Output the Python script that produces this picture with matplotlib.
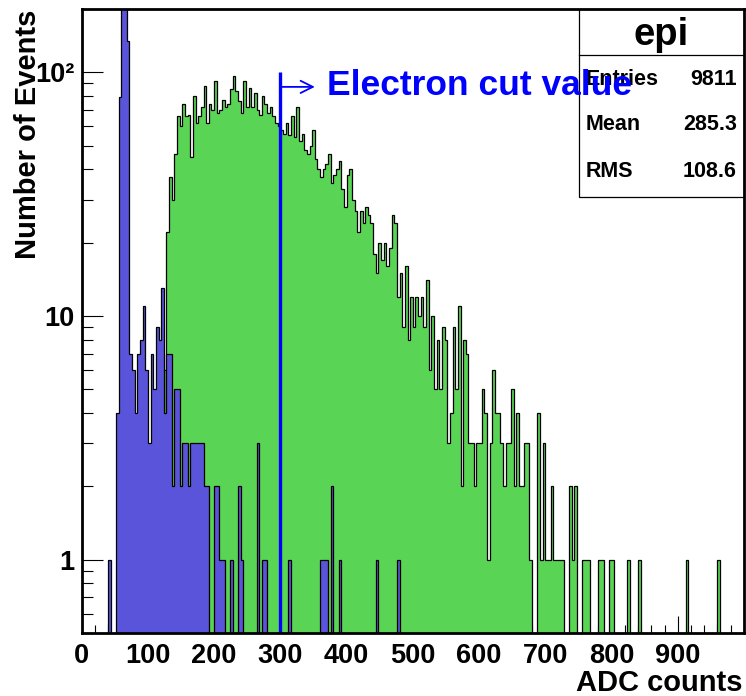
import matplotlib
matplotlib.use('Agg')
import matplotlib.pyplot as plt
import numpy as np
from matplotlib.patches import Rectangle
from matplotlib.lines import Line2D
from matplotlib.ticker import FixedLocator, FuncFormatter

# --- data (ADC histograms, 4-count bins) ---
bin_width = 4
x_max = 1000

green_start = 124
green_counts = [
    6, 22, 37, 30, 46, 66, 60, 74, 66, 67,          # 124-160
    45, 80, 62, 66, 72, 88, 62, 74, 70, 92,         # 164-200
    68, 70, 77, 72, 74, 85, 96, 84, 76, 68,         # 204-240
    92, 72, 86, 72, 82, 70, 67, 80, 74, 68,         # 244-280
    72, 66, 62, 60, 58, 56, 62, 55, 66, 54,         # 284-320
    72, 52, 56, 48, 46, 50, 58, 44, 40, 37,         # 324-360
    40, 42, 46, 35, 38, 40, 43, 33, 28, 38,         # 364-400
    40, 30, 27, 22, 27, 24, 28, 26, 24, 18,         # 404-440
    15, 20, 17, 20, 16, 19, 26, 24, 12, 15,         # 444-480
    9, 16, 8, 12, 9, 12, 10, 12, 9, 14,             # 484-520
    6, 10, 5, 8, 5, 9, 8, 3, 4, 9,                  # 524-560
    5, 11, 2, 8, 7, 3, 3, 2, 3, 3,                  # 564-600
    5, 4, 1, 3, 6, 4, 4, 3, 2, 3,                   # 604-640
    3, 5, 2, 4, 2, 2, 3, 3, 1, 0,                   # 644-680
    0, 4, 1, 3, 1, 1, 2, 1, 1, 1,                   # 684-720
    1, 0, 0, 2, 1, 2, 0, 0, 1, 1,                   # 724-760
    1, 0, 0, 0, 1, 1, 0, 0, 1, 1,                   # 764-800
]
green_tail_adc = [824, 840, 912, 960]
green_tail_counts = [1, 1, 1, 1]

blue_start = 40
blue_counts = [
    1, 0, 0, 4, 79, 350, 300, 134, 7, 6,            # 40-76
    4, 7, 8, 11, 6, 3, 7, 5, 9, 8,                  # 80-116
    13, 4, 7, 7, 2, 5, 5, 2, 3, 3,                  # 120-156
    2, 3, 3, 3, 3, 3, 2, 2, 0, 0,                   # 160-196
    2, 2, 1, 1, 0, 0, 1,                            # 200-224
]
blue_spike_adc = [236, 240, 264, 272, 276, 312, 360, 364, 368, 376, 388, 444, 476]
blue_spike_counts = [2, 1, 3, 1, 1, 1, 1, 1, 1, 2, 1, 1, 1]

cut_value = 300
cut_label = 'Electron cut value'

stats_title = 'epi'
stats_names = ['Entries', 'Mean', 'RMS']
stats_values = ['9811', '285.3', '108.6']

x_major = list(range(0, 1000, 100))
y_labels = {1: '1', 10: '10', 100: '10\u00b2'}

GREEN = '#59D454'
BLUE_FILL = '#5954D9'
FONT = ['Liberation Sans', 'DejaVu Sans']

plt.rcParams['font.family'] = FONT
plt.rcParams['font.weight'] = 'bold'


def build_hist(start, counts, extra_adc, extra_counts):
    edges = np.arange(0, x_max + bin_width, bin_width)
    values = np.zeros(len(edges) - 1)
    i0 = start // bin_width
    values[i0:i0 + len(counts)] = counts
    for adc, c in zip(extra_adc, extra_counts):
        values[adc // bin_width] = c
    # keep empty bins below the visible range on the log axis
    return edges, np.maximum(values, 0.01)


fig = plt.figure(figsize=(7.46, 6.96), dpi=100)
ax = fig.add_axes([0.1095, 0.0905, 0.8878, 0.8961])

g_edges, g_vals = build_hist(green_start, green_counts, green_tail_adc, green_tail_counts)
b_edges, b_vals = build_hist(blue_start, blue_counts, blue_spike_adc, blue_spike_counts)

ax.stairs(g_vals, g_edges, fill=True, facecolor=GREEN, edgecolor='none', baseline=0.01, zorder=2)
ax.stairs(g_vals, g_edges, color='black', linewidth=0.9, baseline=0.01, zorder=2.1)
ax.stairs(b_vals, b_edges, fill=True, facecolor=BLUE_FILL, edgecolor='none', baseline=0.01, zorder=3)
ax.stairs(b_vals, b_edges, color='black', linewidth=0.9, baseline=0.01, zorder=3.1)

ax.set_yscale('log')
ax.set_xlim(0, x_max)
ax.set_ylim(0.5, 181)

# electron cut marker
ax.plot([cut_value, cut_value], [0.5, 100], color='#0000FF', linewidth=2.4, zorder=4,
        solid_capstyle='butt')
ax.annotate('', xy=(cut_value + 52, 87), xytext=(cut_value, 87),
            arrowprops=dict(arrowstyle='->', color='#0000FF', lw=1.3, mutation_scale=22,
                            shrinkA=0, shrinkB=0), zorder=4)
ax.text(cut_value + 70, 80.5, cut_label, color='#0000FF', fontsize=25.5, fontweight='bold',
        ha='left', va='baseline', zorder=10)

# axis ticks ROOT style
ax.xaxis.set_major_locator(FixedLocator(x_major))
ax.xaxis.set_minor_locator(FixedLocator(np.arange(0, x_max, 20)))
ax.yaxis.set_major_locator(FixedLocator([1, 10, 100]))
minors = [v * m for m in (0.1, 1, 10) for v in range(2, 10)]
ax.yaxis.set_minor_locator(FixedLocator([v for v in minors if 0.5 <= v <= 181]))
ax.yaxis.set_major_formatter(FuncFormatter(lambda v, p: y_labels.get(int(round(v)), '')))
ax.yaxis.set_minor_formatter(FuncFormatter(lambda v, p: ''))

ax.tick_params(axis='x', which='major', direction='in', length=12, width=0.8,
               labelsize=19.5, pad=7)
ax.tick_params(axis='x', which='minor', direction='in', length=5.5, width=0.8)
ax.tick_params(axis='y', which='major', direction='in', length=15, width=0.8,
               labelsize=19.5, pad=5)
ax.tick_params(axis='y', which='minor', direction='in', length=8, width=0.8)
for lab in ax.get_xticklabels() + ax.get_yticklabels():
    lab.set_fontweight('bold')

for sp in ax.spines.values():
    sp.set_linewidth(2.0)
    sp.set_zorder(6)

# stats box
box = Rectangle((0.751, 0.699), 0.249, 0.301, transform=ax.transAxes,
                facecolor='white', edgecolor='black', linewidth=0.9, zorder=5, clip_on=False)
ax.add_patch(box)
ax.add_line(Line2D([0.751, 1.0], [0.9267, 0.9267], transform=ax.transAxes,
                   color='black', linewidth=0.9, zorder=5.1))
ax.text(0.8747, 0.9428, stats_title, transform=ax.transAxes, fontsize=27.5,
        fontweight='bold', ha='center', va='baseline', zorder=5.2)
row_y = [0.8786, 0.8065, 0.7316]
for name, val, y in zip(stats_names, stats_values, row_y):
    ax.text(0.7608, y, name, transform=ax.transAxes, fontsize=15.5, fontweight='bold',
            ha='left', va='baseline', zorder=5.2)
    ax.text(0.9893, y, val, transform=ax.transAxes, fontsize=15.5, fontweight='bold',
            ha='right', va='baseline', zorder=5.2)

fig.text(28 / 746, 1 - 10 / 696, 'Number of Events', rotation=90, ha='center', va='top',
         fontsize=21, fontweight='bold')
fig.text(742 / 746, 1 - 683 / 696, 'ADC counts', ha='right', va='center',
         fontsize=21, fontweight='bold')

fig.savefig('out.png', dpi=100)
